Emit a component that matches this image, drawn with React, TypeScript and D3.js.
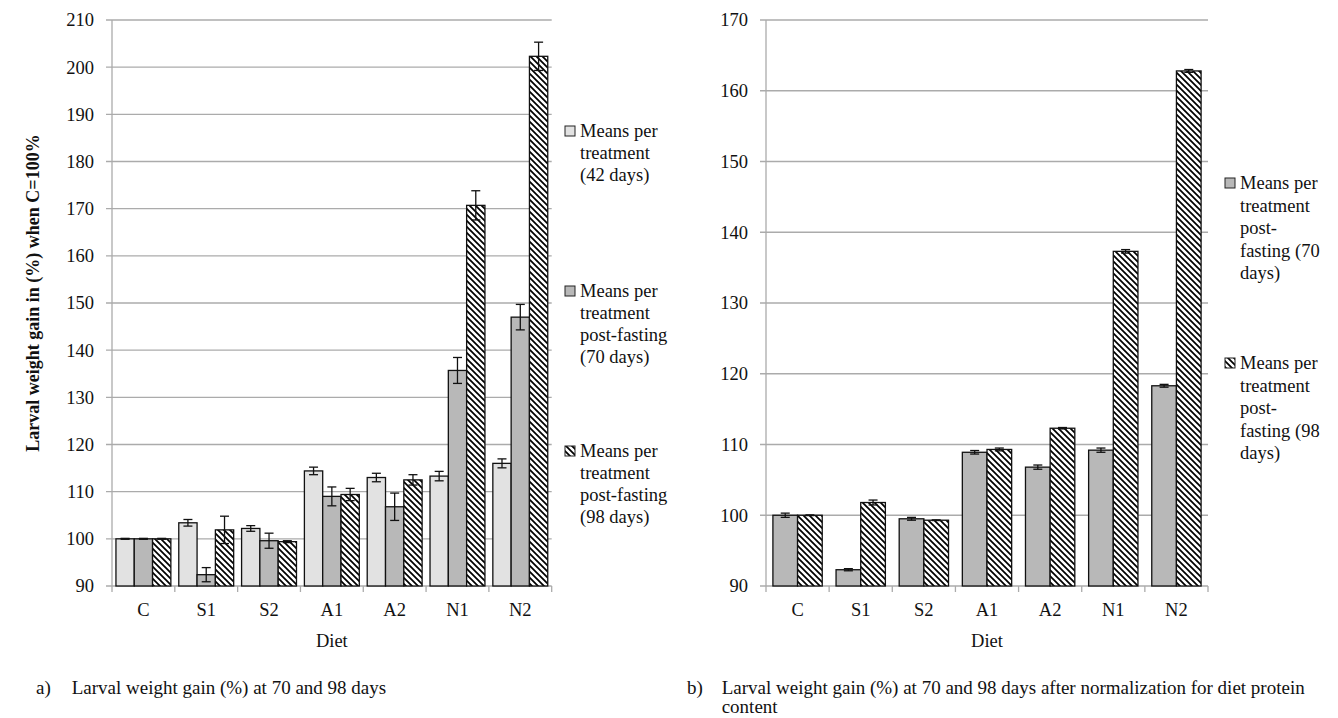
import * as d3 from "d3";

const categories = ["C", "S1", "S2", "A1", "A2", "N1", "N2"];

// panel a) relative gain, C = 100
const gain42 = [100, 103.4, 102.2, 114.4, 113.0, 113.3, 116.0];
const gain42Err = [0.1, 0.7, 0.6, 0.8, 0.9, 1.0, 0.95];
const gain70 = [100, 92.4, 99.6, 109.0, 106.8, 135.7, 147.0];
const gain70Err = [0.1, 1.5, 1.6, 2.0, 2.9, 2.75, 2.7];
const gain98 = [100, 101.9, 99.4, 109.4, 112.5, 170.7, 202.3];
const gain98Err = [0.1, 2.9, 0.2, 1.3, 1.1, 3.1, 3.0];

// panel b) normalized for diet protein content
const norm70 = [100.0, 92.3, 99.5, 108.9, 106.8, 109.2, 118.3];
const norm70Err = [0.3, 0.15, 0.2, 0.25, 0.3, 0.3, 0.2];
const norm98 = [100.0, 101.8, 99.3, 109.3, 112.3, 137.3, 162.8];
const norm98Err = [0.05, 0.35, 0.05, 0.2, 0.1, 0.25, 0.2];

const ticksA = [90, 100, 110, 120, 130, 140, 150, 160, 170, 180, 190, 200, 210];
const ticksB = [90, 100, 110, 120, 130, 140, 150, 160, 170];

const legendA = [
  ["Means per", "treatment", "(42 days)"],
  ["Means per", "treatment", "post-fasting", "(70 days)"],
  ["Means per", "treatment", "post-fasting", "(98 days)"],
];
const legendB = [
  ["Means per", "treatment", "post-", "fasting (70", "days)"],
  ["Means per", "treatment", "post-", "fasting (98", "days)"],
];

const FONT = "'Liberation Serif', 'Times New Roman', serif";
const GRID = "#ababab";
const LIGHT = "#e2e2e2";
const MID = "#b8b8b8";
const HATCH = "url(#hatch)";

type Series = { values: number[]; errs: number[]; fill: string };

function Panel({
  left,
  right,
  top,
  bottom,
  domain,
  ticks,
  series,
  outer,
}: {
  left: number;
  right: number;
  top: number;
  bottom: number;
  domain: [number, number];
  ticks: number[];
  series: Series[];
  outer: number;
}) {
  const y = d3.scaleLinear().domain(domain).range([bottom, top]);
  const x = d3.scaleBand().domain(categories).range([left, right]).padding(0);
  const inner = d3
    .scaleBand<number>()
    .domain(series.map((_, i) => i))
    .range([0, x.bandwidth()])
    .paddingInner(0)
    .paddingOuter(outer);
  const bw = inner.bandwidth();
  const edges = [...categories.map((c) => x(c)!), right];

  return (
    <g>
      {ticks.map((t) => (
        <g key={t}>
          <line x1={left - 6} x2={right} y1={y(t)} y2={y(t)} stroke={GRID} strokeWidth={1.3} />
          <text x={left - 18} y={y(t)} dy="0.35em" textAnchor="end" fontSize={18.5}>
            {t}
          </text>
        </g>
      ))}
      <line x1={left} x2={left} y1={top} y2={bottom} stroke={GRID} strokeWidth={1.3} />
      {edges.map((e, i) => (
        <line key={i} x1={e} x2={e} y1={bottom} y2={bottom + 6} stroke={GRID} strokeWidth={1.3} />
      ))}
      {categories.map((c, ci) => (
        <g key={c}>
          {series.map((s, si) => {
            const bx = x(c)! + inner(si)!;
            const v = s.values[ci];
            const e = s.errs[ci];
            const cx = bx + bw / 2;
            return (
              <g key={si}>
                <rect
                  x={bx}
                  y={y(v)}
                  width={bw}
                  height={y(domain[0]) - y(v)}
                  fill={s.fill}
                  stroke="#111"
                  strokeWidth={1.3}
                />
                <g stroke="#111" strokeWidth={1.3}>
                  <line x1={cx} x2={cx} y1={y(v + e)} y2={y(v - e)} />
                  <line x1={cx - 4.5} x2={cx + 4.5} y1={y(v + e)} y2={y(v + e)} />
                  <line x1={cx - 4.5} x2={cx + 4.5} y1={y(v - e)} y2={y(v - e)} />
                </g>
              </g>
            );
          })}
          <text x={x(c)! + x.bandwidth() / 2} y={616} textAnchor="middle" fontSize={18.5}>
            {c}
          </text>
        </g>
      ))}
      <text x={(left + right) / 2} y={647} textAnchor="middle" fontSize={18.5}>
        Diet
      </text>
    </g>
  );
}

function Legend({
  x,
  starts,
  lineH,
  items,
  fills,
}: {
  x: number;
  starts: number[];
  lineH: number;
  items: string[][];
  fills: string[];
}) {
  return (
    <g>
      {items.map((lines, i) => (
        <g key={i}>
          <rect x={x} y={starts[i] - 5} width={10} height={10} fill={fills[i]} stroke="#222" strokeWidth={1} />
          {lines.map((l, j) => (
            <text key={j} x={x + 15} y={starts[i] + j * lineH} dy="0.35em" fontSize={18.5}>
              {l}
            </text>
          ))}
        </g>
      ))}
    </g>
  );
}

export default function App() {
  const seriesA: Series[] = [
    { values: gain42, errs: gain42Err, fill: LIGHT },
    { values: gain70, errs: gain70Err, fill: MID },
    { values: gain98, errs: gain98Err, fill: HATCH },
  ];
  const seriesB: Series[] = [
    { values: norm70, errs: norm70Err, fill: MID },
    { values: norm98, errs: norm98Err, fill: HATCH },
  ];

  return (
    <svg
      width={1338}
      height={718}
      style={{ position: "absolute", left: 0, top: 0, background: "#fff" }}
      fontFamily={FONT}
      fill="#111"
    >
      <defs>
        <pattern id="hatch" patternUnits="userSpaceOnUse" width={6} height={6}>
          <rect width={6} height={6} fill="#fff" />
          <path d="M-1,-1 L7,7 M-1,5 L1,7 M5,-1 L7,1" stroke="#000" strokeWidth={1.7} />
        </pattern>
      </defs>

      <Panel left={112} right={551.7} top={20} bottom={586} domain={[90, 210]} ticks={ticksA} series={seriesA} outer={0.216} />
      <Legend x={565} starts={[131, 291, 451]} lineH={21.7} items={legendA} fills={[LIGHT, MID, HATCH]} />
      <text
        transform="translate(33,293) rotate(-90)"
        textAnchor="middle"
        dy="0.35em"
        fontSize={18}
        fontWeight="bold"
      >
        Larval weight gain in (%) when C=100%
      </text>

      <Panel left={766} right={1208} top={20} bottom={586} domain={[90, 170]} ticks={ticksB} series={seriesB} outer={0.28} />
      <Legend x={1225} starts={[183, 363]} lineH={22.5} items={legendB} fills={[MID, HATCH]} />

      <g fontSize={19}>
        <text x={36} y={694}>a)</text>
        <text x={71.7} y={694}>Larval weight gain (%) at 70 and 98 days</text>
        <text x={687} y={694}>b)</text>
        <text x={721.7} y={694}>Larval weight gain (%) at 70 and 98 days after normalization for diet protein</text>
        <text x={721.7} y={713}>content</text>
      </g>
    </svg>
  );
}
